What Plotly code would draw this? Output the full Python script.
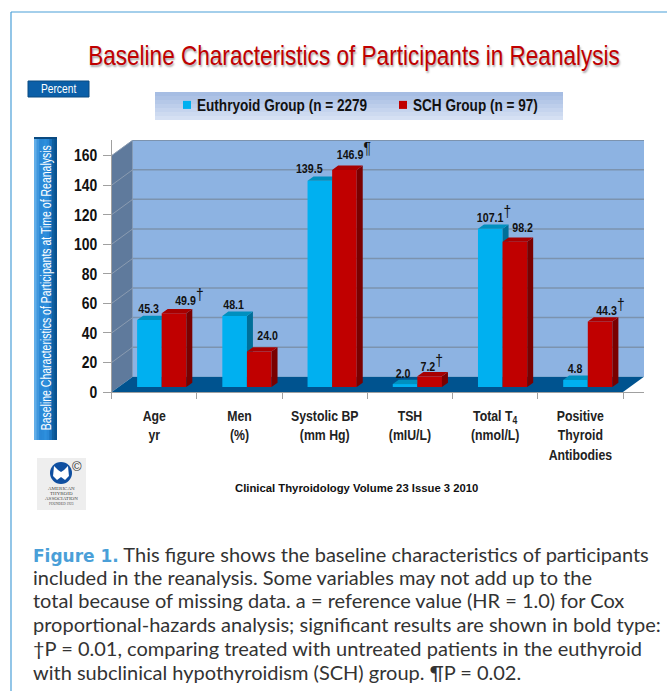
import plotly.graph_objects as go

W, H = 667, 691
categories = ["<b>Age</b><br><b>yr</b>", "<b>Men</b><br><b>(%)</b>", "<b>Systolic BP</b><br><b>(mm Hg)</b>",
              "<b>TSH</b><br><b>(mIU/L)</b>", "<b>Total T<sub>4</sub></b><br><b>(nmol/L)</b>",
              "<b>Positive</b><br><b>Thyroid</b><br><b>Antibodies</b>"]
euthyroid = [45.3, 48.1, 139.5, 2.0, 107.1, 4.8]
sch = [49.9, 24.0, 146.9, 7.2, 98.2, 44.3]
euthyroid_marks = ["", "", "", "", "†", ""]
sch_marks = ["†", "", "¶", "†", "", "†"]
y_ticks = [0, 20, 40, 60, 80, 100, 120, 140, 160]
series_names = ["<b>Euthryoid Group (n = 2279</b>", "<b>SCH Group (n = 97)</b>"]
caption_lines = [
    "<span style='font-family:DejaVu Sans;font-size:17px;font-weight:bold;color:#4a9fd8'>Figure 1.</span> This figure shows the baseline characteristics of participants",
    "included in the reanalysis. Some variables may not add up to the",
    "total because of missing data. a = reference value (HR = 1.0) for Cox",
    "proportional-hazards analysis; significant results are shown in bold type:",
    "†P = 0.01, comparing treated with untreated patients in the euthyroid",
    "with subclinical hypothyroidism (SCH) group. ¶P = 0.02.",
]

# layout geometry (pixels of the page)
X0, X6, XB, Y0, YTOP = 111.7, 623.0, 644.0, 392.0, 140.0
PX_CAT = (X6 - X0) / 6
PX_UNIT = 1.478
DX = (XB - X6) / PX_CAT
DY = 15.3 / PX_UNIT
YMAX = (Y0 - YTOP) / PX_UNIT
BASE = 5 / PX_UNIT
BAR_W = 24.6 / PX_CAT
OFF_E, OFF_S = -17.2 / PX_CAT, 7.4 / PX_CAT
SIDE_X, SIDE_Y = 6 / PX_CAT, 4.3 / PX_UNIT
NARROW = "Liberation Sans Narrow, Liberation Sans, sans-serif"
SANS = "Liberation Sans, sans-serif"
CAP = "Lato, sans-serif"

xs = [i + 0.5 for i in range(6)]


def box_faces(values, off):
    side_x, side_y, top_x, top_y = [], [], [], []
    for c, v in zip(xs, values):
        l = c + off
        r = l + BAR_W
        t = BASE + v
        side_x += [r, r + SIDE_X, r + SIDE_X, r, r, None]
        side_y += [BASE, BASE + SIDE_Y, t + SIDE_Y, t, BASE, None]
        top_x += [l, l + SIDE_X, r + SIDE_X, r, l, None]
        top_y += [t, t + SIDE_Y, t + SIDE_Y, t, t, None]
    return side_x, side_y, top_x, top_y


def faces(values, off, side_col, top_col, xa, ya):
    sx, sy, tx, ty = box_faces(values, off)
    return [
        go.Scatter(x=sx, y=sy, fill="toself", fillcolor=side_col, mode="none", showlegend=False,
                   hoverinfo="skip", xaxis=xa, yaxis=ya),
        go.Scatter(x=tx, y=ty, fill="toself", fillcolor=top_col, mode="none", showlegend=False,
                   hoverinfo="skip", xaxis=xa, yaxis=ya),
    ]


fig = go.Figure()
fig.add_trace(go.Bar(x=xs, y=euthyroid, base=BASE, offset=OFF_E, width=BAR_W, name=series_names[0],
                     marker_color="#00b0f0", marker_line_width=0, textposition="none"))
fig.add_traces(faces(euthyroid, OFF_E, "#006f99", "#0090bf", "x", "y"))
fig.add_trace(go.Bar(x=xs, y=sch, base=BASE, offset=OFF_S, width=BAR_W, name=series_names[1],
                     marker_color="#c00000", marker_line_width=0, xaxis="x2", yaxis="y2", textposition="none"))
fig.add_traces(faces(sch, OFF_S, "#7a0000", "#a80000", "x2", "y2"))

shapes = []


def rect(x0, y0, x1, y1, color, layer="below", line=None):
    shapes.append(dict(type="rect", xref="paper", yref="paper", x0=x0 / W, x1=x1 / W,
                       y0=1 - y0 / H, y1=1 - y1 / H, fillcolor=color, layer=layer,
                       line=dict(width=0) if line is None else line))


def pline(x0, y0, x1, y1, color, width):
    shapes.append(dict(type="line", xref="paper", yref="paper", x0=x0 / W, x1=x1 / W,
                       y0=1 - y0 / H, y1=1 - y1 / H, layer="below", line=dict(color=color, width=width)))


def data_poly(pts, color):
    d = "M" + " L".join(f"{a:.4f},{b:.4f}" for a, b in pts) + " Z"
    shapes.append(dict(type="path", path=d, xref="x", yref="y", fillcolor=color, layer="below",
                       line=dict(width=0)))


# outer frame
pline(11, 12, 667, 12, "#4a9fd8", 1.2)
pline(11, 12, 11, 691, "#4a9fd8", 1.2)

# 3D walls and floor
data_poly([(DX, DY), (6 + DX, DY), (6 + DX, YMAX), (DX, YMAX)], "#8db3e2")
data_poly([(0, 0), (DX, DY), (DX, YMAX), (0, 160)], "#5f7a9c")
for v in y_ticks[1:]:
    shapes.append(dict(type="line", xref="x", yref="y", x0=DX, x1=6 + DX, y0=v + DY, y1=v + DY,
                       layer="below", line=dict(color="#7c93ae", width=1.5)))
    shapes.append(dict(type="line", xref="x", yref="y", x0=0, x1=DX, y0=v, y1=v + DY,
                       layer="below", line=dict(color="#8a9bb0", width=1)))
data_poly([(0, 0), (6, 0), (6 + DX, DY), (DX, DY)], "#00538f")

# legend band (each strip runs to the bottom, so no seams show)
band = ["#a6bde3", "#adc2e5", "#b5c8e8", "#bdceeb", "#c5d4ee", "#cddaf0", "#d5e0f3"]
for i, col in enumerate(band):
    rect(155, 92 + i * 4, 563, 120, col)

# Percent button
rect(28, 81, 89, 97, "#0b5fa8", line=dict(color="#0a4a80", width=1))

# rotated title box (each strip runs to the right edge)
strips = ["#62aee8", "#3f97de", "#2a88d6", "#2a8ad8", "#2e90dd", "#2a88d6", "#1a74bf", "#0f5f9f", "#0a5290"]
for i, col in enumerate(strips):
    rect(34 + i * 23 / 9, 137, 57, 440, col)
rect(34, 137, 57, 139, "#0a4a80")

# logo
rect(37, 458, 86, 510, "#eeeeee")
shapes.append(dict(type="circle", xref="paper", yref="paper", x0=50 / W, x1=72 / W,
                   y0=1 - 484 / H, y1=1 - 462 / H, fillcolor="#0f4fa0", line=dict(width=0), layer="below"))
thy = [(54, 466), (58, 470), (61, 472), (64, 470), (68, 466), (69, 476), (65, 480), (61, 477), (57, 480), (53, 476)]
path = "M" + " L".join(f"{x / W:.4f},{1 - y / H:.4f}" for x, y in thy) + " Z"
shapes.append(dict(type="path", path=path, xref="paper", yref="paper", fillcolor="#ffffff",
                   line=dict(width=0), layer="below"))

ann = []


def text(x, y, s, size, color="#000000", family=NARROW, anchor="center", angle=0, shadow=None):
    font = dict(size=size, color=color, family=family)
    if shadow:
        font["shadow"] = shadow
    ann.append(dict(xref="paper", yref="paper", x=x / W, y=1 - y / H, text=s, showarrow=False,
                    xanchor=anchor, yanchor="middle", textangle=angle, align="left", font=font))


title = "Baseline Characteristics of Participants in Reanalysis"
text(354, 56.5, title, 27, "#c00000", shadow="1px 2px 2px #a8a8a8")
text(58.5, 89, "Percent", 12.5, "#ffffff")
text(45.5, 288, "Baseline Characteristics of Participants at Time of Reanalysis", 15, "#ffffff", angle=-90)
text(77, 466, "©", 13, "#333333", SANS)
for y, s, size in [(488, "AMERICAN", 5), (493, "THYROID", 5), (498, "ASSOCIATION", 5), (504, "FOUNDED 1923", 3.5)]:
    text(61, y, s, size, "#444444", "Liberation Serif")
text(357, 488, "<b>Clinical Thyroidology Volume 23 Issue 3 2010</b>", 11.3, "#111111", SANS)

for y, line in zip([554, 577, 600, 624, 648, 672], caption_lines):
    text(30.5, y, line, 20, "#333333", CAP, "left")

# value labels, placed from the values through the axes
e_shift = [(-1.4, 2), (-1.6, 2), (-10, 2.8), (-2, 1), (4, 2), (0, 2)]
s_shift = [(15, 3.3), (8, 6.8), (10, 5.9), (2, 0), (8, 5.3), (10, 2)]
for series, marks, off, shift_list, axes in [
    (euthyroid, euthyroid_marks, OFF_E, e_shift, ("x", "y")),
    (sch, sch_marks, OFF_S, s_shift, ("x2", "y2")),
]:
    for c, v, m, sh in zip(xs, series, marks, shift_list):
        lab = f"<b>{v:.1f}</b>"
        if m:
            lab += f"<sup><span style='font-size:17px'>{m}</span></sup>"
        ann.append(dict(xref=axes[0], yref=axes[1], x=c + off + BAR_W / 2, y=BASE + v, text=lab,
                        showarrow=False, xanchor="center", yanchor="bottom", xshift=sh[0], yshift=sh[1],
                        font=dict(size=13, color="#111111", family=NARROW)))

axis_common = dict(range=[0, 6 + DX], domain=[X0 / W, XB / W], fixedrange=True)
yaxis_common = dict(range=[0, YMAX], domain=[1 - Y0 / H, 1 - YTOP / H], fixedrange=True)

fig.update_layout(
    width=W, height=H, margin=dict(l=0, r=0, t=0, b=0, autoexpand=False),
    paper_bgcolor="#ffffff", plot_bgcolor="rgba(0,0,0,0)", barmode="overlay",
    xaxis=dict(**axis_common, tickmode="array", tickvals=xs, ticktext=categories, ticklen=0,
               ticklabelstandoff=10,
               showgrid=False, zeroline=False, showline=True, linecolor="#a0a0a0", linewidth=1,
               tickfont=dict(family=NARROW, size=15, color="#222222"),
               minor=dict(tickmode="array", tickvals=list(range(7)), ticks="outside", ticklen=6,
                          tickcolor="#a0a0a0", showgrid=False)),
    yaxis=dict(**yaxis_common, tickmode="array", tickvals=y_ticks, ticktext=[f"<b>{t}</b>" for t in y_ticks],
               ticks="outside", ticklen=8, tickcolor="#a0a0a0", showgrid=False, zeroline=False,
               ticklabelstandoff=2,
               showline=True, linecolor="#a0a0a0", linewidth=1,
               tickfont=dict(family=NARROW, size=17, color="#111111")),
    xaxis2=dict(**axis_common, overlaying="x", anchor="y2", visible=False),
    yaxis2=dict(**yaxis_common, overlaying="y", anchor="x2", visible=False),
    legend=dict(orientation="h", x=157 / W, y=1 - 105 / H, xanchor="left", yanchor="middle",
                bgcolor="rgba(0,0,0,0)", font=dict(family=NARROW, size=16, color="#111111"),
                entrywidth=171, entrywidthmode="pixels", itemwidth=30, itemclick=False, itemdoubleclick=False),
    shapes=shapes, annotations=ann, showlegend=True,
)
# condense the text set in the narrow face (the narrow font itself is not installed)
squeeze = """
document.body.style.margin='0';
document.querySelectorAll('svg text').forEach(function(t){
  var fam=(t.style.fontFamily||'');
  if(fam.indexOf('Narrow')<0) return;
  var s=t.textContent, k=0.82;
  if(s.indexOf('at Time of')>=0) k=0.70;
  else if(s.indexOf('in Reanalysis')>=0) k=0.836;
  else if(s.indexOf('Group')>=0) k=0.85;
  var x=parseFloat(t.getAttribute('x'))||0;
  if(t.closest('.annotation')){var b=t.getBBox(); x=b.x+b.width/2;}
  var old=t.getAttribute('transform')||'';
  t.setAttribute('transform',old+' translate('+x+',0) scale('+k+',1) translate('+(-x)+',0)');
});
document.querySelectorAll('.legendpoints').forEach(function(g){
  g.setAttribute('transform','translate(16.6,0) scale(0.67)');
});
"""
fig.write_html("out.html", config={"displayModeBar": False}, post_script=squeeze)
